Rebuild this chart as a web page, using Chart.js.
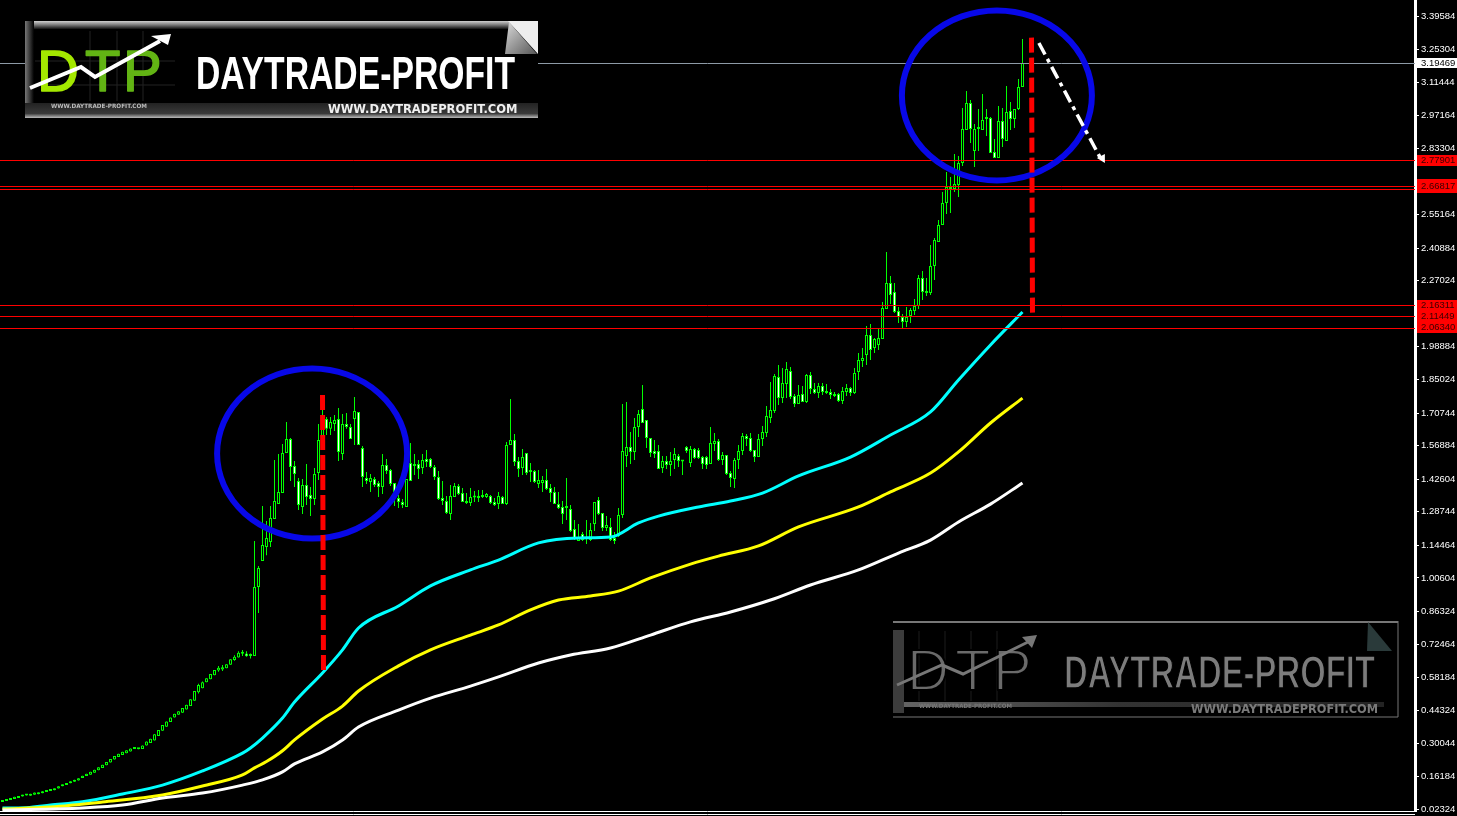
<!DOCTYPE html>
<html><head><meta charset="utf-8"><style>html,body{margin:0;padding:0;background:#000}canvas{display:block}</style>
<script src="https://cdn.jsdelivr.net/npm/chart.js@4"></script></head><body>
<canvas id="c" width="1457" height="816"></canvas>
<script>
const tickValues=[3.39584,3.25304,3.11444,2.97164,2.83304,2.69024,2.55164,2.40884,2.27024,2.12904,1.98884,1.85024,1.70744,1.56884,1.42604,1.28744,1.14464,1.00604,0.86324,0.72464,0.58184,0.44324,0.30044,0.16184,0.02324];
const opens=[
.053,.057,.062,.066,.070,.076,.081,.080,.084,.086,
.090,.096,.100,.103,.111,.120,.125,.133,.139,.145,
.155,.164,.169,.177,.188,.198,.209,.221,.234,.244,
.253,.260,.268,.279,.277,.279,.293,.304,.315,.334,
.356,.373,.393,.412,.424,.433,.447,.461,.484,.520,
.537,.562,.575,.592,.612,.617,.622,.637,.657,.668,
.684,.685,.674,.674,.968,1.078,1.138,1.159,1.257,1.320,
1.367,1.537,1.597,1.482,1.418,1.308,1.401,1.359,1.342,1.452,
1.593,1.682,1.640,1.661,1.682,1.533,1.661,1.648,1.682,1.712,
1.559,1.431,1.414,1.427,1.410,1.393,1.486,1.465,1.410,1.346,
1.329,1.308,1.495,1.482,1.491,1.474,1.512,1.512,1.478,1.435,
1.346,1.333,1.278,1.350,1.397,1.367,1.333,1.325,1.348,1.346,
1.350,1.350,1.354,1.329,1.320,1.350,1.320,1.571,1.593,1.503,
1.474,1.537,1.461,1.461,1.406,1.410,1.423,1.389,1.372,1.320,
1.308,1.303,1.299,1.214,1.163,1.193,1.172,1.167,1.235,1.337,
1.282,1.218,1.223,1.176,1.184,1.274,1.525,1.563,1.542,1.648,
1.725,1.678,1.601,1.546,1.546,1.474,1.503,1.486,1.508,1.525,
1.503,1.563,1.495,1.554,1.550,1.520,1.520,1.491,1.576,1.588,
1.508,1.529,1.452,1.427,1.508,1.546,1.610,1.601,1.550,1.520,
1.597,1.622,1.686,1.716,1.861,1.771,1.831,1.886,1.780,1.746,
1.788,1.754,1.869,1.810,1.793,1.822,1.801,1.797,1.788,1.788,
1.759,1.797,1.814,1.793,1.882,1.929,1.954,2.039,1.984,1.997,
2.022,2.150,2.260,2.222,2.141,2.116,2.095,2.120,2.141,2.163,
2.282,2.226,2.218,2.333,2.435,2.507,2.601,2.669,2.660,2.677,
2.771,2.911,3.026,2.822,2.915,2.911,2.958,2.962,2.818,2.792,
2.949,2.864,2.992,2.958,3.000,3.094];
const closes=[
.062,.066,.070,.075,.079,.084,.083,.088,.093,.094,
.099,.104,.108,.111,.120,.128,.134,.141,.148,.154,
.165,.173,.182,.190,.201,.211,.223,.236,.249,.258,
.267,.273,.281,.281,.282,.293,.310,.322,.341,.359,
.381,.395,.412,.428,.439,.453,.467,.490,.525,.551,
.562,.579,.597,.614,.624,.626,.639,.660,.671,.688,
.688,.673,.677,.968,1.048,1.146,1.176,1.261,1.333,1.372,
1.537,1.597,1.478,1.448,1.316,1.401,1.350,1.342,1.448,1.593,
1.665,1.640,1.669,1.678,1.542,1.661,1.648,1.597,1.716,1.571,
1.435,1.418,1.431,1.401,1.393,1.486,1.461,1.406,1.372,1.329,
1.316,1.427,1.418,1.486,1.469,1.508,1.499,1.478,1.435,1.342,
1.333,1.282,1.354,1.397,1.363,1.329,1.325,1.350,1.350,1.354,
1.359,1.363,1.325,1.316,1.354,1.320,1.571,1.593,1.499,1.469,
1.520,1.452,1.457,1.414,1.423,1.423,1.384,1.367,1.320,1.303,
1.278,1.308,1.206,1.176,1.180,1.167,1.180,1.210,1.329,1.278,
1.218,1.231,1.167,1.163,1.274,1.546,1.563,1.542,1.648,1.703,
1.665,1.601,1.537,1.533,1.469,1.503,1.486,1.503,1.533,1.503,
1.501,1.546,1.554,1.516,1.516,1.491,1.486,1.580,1.588,1.508,
1.529,1.448,1.431,1.508,1.546,1.610,1.597,1.546,1.520,1.597,
1.627,1.695,1.720,1.865,1.771,1.835,1.895,1.776,1.746,1.784,
1.754,1.869,1.810,1.793,1.822,1.797,1.793,1.784,1.780,1.759,
1.801,1.814,1.793,1.878,1.933,1.941,2.039,1.975,2.022,2.026,
2.154,2.260,2.209,2.137,2.116,2.095,2.116,2.146,2.163,2.282,
2.222,2.218,2.333,2.443,2.507,2.601,2.669,2.660,2.681,2.771,
2.915,3.026,2.915,2.915,2.920,2.954,2.966,2.813,2.792,2.949,
2.873,2.988,2.958,3.000,3.094,3.196];
const wickStart=49;
const highs=[
.556,.566,.579,.597,.614,.632,.636,.639,.660,.677,.694,.700,.694,.685,
1.163,1.057,1.312,1.248,1.312,1.508,1.533,
1.576,1.669,1.601,1.503,1.431,1.427,1.491,1.393,1.474,1.661,
1.725,1.691,1.691,1.699,1.729,1.703,1.707,1.661,1.776,1.712,
1.567,1.457,1.448,1.435,1.418,1.533,1.512,1.469,1.410,1.359,
1.342,1.427,1.580,1.533,1.508,1.533,1.550,1.516,1.486,1.461,
1.418,1.354,1.401,1.410,1.406,1.389,1.367,1.389,1.376,1.380,
1.380,1.367,1.359,1.346,1.372,1.354,1.584,1.767,1.618,1.520,
1.554,1.537,1.495,1.465,1.465,1.440,1.469,1.406,1.393,1.372,
1.333,1.431,1.316,1.252,1.235,1.201,1.252,1.240,1.329,1.350,
1.282,1.269,1.261,1.201,1.303,1.746,1.754,1.627,1.686,1.720,
1.827,1.678,1.601,1.593,1.571,1.525,1.525,1.542,1.559,1.533,
1.508,1.567,1.567,1.559,1.559,1.525,1.525,1.648,1.622,1.597,
1.542,1.529,1.461,1.516,1.571,1.622,1.618,1.622,1.550,1.618,
1.652,1.737,1.839,1.873,1.912,1.899,1.924,1.903,1.788,1.827,
1.822,1.873,1.882,1.835,1.835,1.835,1.831,1.810,1.797,1.793,
1.818,1.831,1.818,1.899,1.963,1.984,2.078,2.086,2.026,2.065,
2.180,2.392,2.290,2.260,2.158,2.129,2.158,2.154,2.192,2.294,
2.311,2.282,2.422,2.452,2.528,2.647,2.732,2.711,2.809,2.801,
3.005,3.077,3.039,2.937,3.000,3.064,3.000,2.966,2.873,3.013,
3.005,3.098,3.030,3.000,3.128,3.298];
const lows=[
.515,.537,.562,.575,.592,.607,.610,.622,.637,.654,.668,.674,.671,.663,
.674,.857,1.078,1.103,1.138,1.257,1.320,
1.367,1.537,1.418,1.393,1.295,1.278,1.316,1.269,1.316,1.423,
1.555,1.614,1.614,1.631,1.503,1.508,1.640,1.597,1.571,1.571,
1.393,1.406,1.372,1.393,1.350,1.363,1.448,1.397,1.312,1.303,
1.303,1.308,1.418,1.444,1.427,1.448,1.478,1.474,1.423,1.337,
1.316,1.278,1.252,1.350,1.359,1.329,1.320,1.312,1.329,1.329,
1.346,1.346,1.320,1.312,1.299,1.320,1.316,1.571,1.482,1.435,
1.444,1.444,1.414,1.410,1.389,1.372,1.380,1.329,1.320,1.299,
1.235,1.252,1.201,1.167,1.163,1.163,1.150,1.163,1.206,1.274,
1.206,1.206,1.163,1.150,1.180,1.261,1.478,1.491,1.508,1.605,
1.665,1.559,1.520,1.516,1.469,1.452,1.469,1.440,1.469,1.478,
1.444,1.537,1.478,1.512,1.512,1.469,1.469,1.491,1.546,1.503,
1.486,1.444,1.393,1.389,1.469,1.529,1.567,1.542,1.499,1.520,
1.567,1.605,1.665,1.707,1.742,1.750,1.771,1.767,1.733,1.746,
1.754,1.750,1.788,1.788,1.771,1.784,1.788,1.767,1.776,1.754,
1.746,1.780,1.780,1.788,1.848,1.903,1.912,1.933,1.963,1.975,
2.022,2.150,2.171,2.133,2.090,2.065,2.073,2.090,2.124,2.150,
2.188,2.205,2.209,2.273,2.435,2.507,2.554,2.558,2.647,2.626,
2.758,2.911,2.856,2.754,2.822,2.911,2.886,2.813,2.792,2.792,
2.839,2.864,2.911,2.920,2.996,3.094];
const maCyanAt=[0,6,12,20,30,40,50,60,62,65,70,73,80,85,89,99,107,117,124,134,144,152,159,164,174,182,190,199,212,222,232,239,247,255];
const maCyan=[.028,.029,.040,.054,.087,.125,.185,.261,.283,.325,.410,.478,.602,.700,.793,.887,.972,1.040,1.082,1.155,1.176,1.180,1.240,1.269,1.308,1.333,1.367,1.440,1.520,1.614,1.712,1.848,1.997,2.137];
const maYellowAt=[0,12,25,40,50,60,63,66,70,73,80,85,89,99,107,117,124,132,139,147,154,162,172,179,189,199,214,222,232,239,247,255];
const maYellow=[.023,.032,.053,.083,.121,.168,.198,.225,.271,.317,.406,.461,.525,.632,.700,.763,.806,.870,.912,.929,.950,1.006,1.065,1.099,1.142,1.223,1.308,1.372,1.452,1.542,1.665,1.771];
const maWhiteAt=[0,20,30,40,50,60,65,70,73,80,85,89,99,107,117,124,134,142,152,162,172,182,192,202,214,224,232,239,247,255];
const maWhite=[.019,.028,.040,.070,.091,.125,.147,.181,.215,.266,.317,.372,.444,.495,.546,.585,.644,.678,.708,.763,.819,.861,.912,.976,1.040,1.112,1.167,1.244,1.320,1.410];
const levelPrices=[3.19469,2.77901,2.66817,2.65580,2.16311,2.11449,2.06340];
const levelNudge=[0,-1,-1,-1,-1,-1,-1];
const levelColors=['#8d9aa6','#ff0000','#ff0000','#ff0000','#ff0000','#ff0000','#ff0000'];
const tagPrices=[3.19469,2.77901,2.66817,2.16311,2.11449,2.06340];
const ellipseIdx=[77.4,248.6], ellipsePrice=[1.535,3.058], ellipseRxIdx=[23.75,23.75], ellipseRyPrice=[.3615,.3615];
const dashIdx=[[80,80.25],[257.25,257.5]], dashPrice=[[1.784,.614],[3.304,2.133]];
const arrowIdx=[259.1,274.6], arrowPrice=[3.281,2.788];
const headIdx=[275.6,275.6,273.6], headPrice=[2.809,2.771,2.792];

const idx=opens.map((_,i)=>i);
const wickData=idx.map(i=>{const w=i-wickStart;return {x:i,y:w>=0?[lows[w],highs[w]]:[Math.min(opens[i],closes[i]),Math.max(opens[i],closes[i])]};});
const bodyData=idx.map(i=>({x:i,y:[opens[i],closes[i]]}));
const bodyFill=idx.map(i=>closes[i]<opens[i]?'#ffffff':'#000000');
const pts=(a,v)=>a.map((x,k)=>({x,y:v[k]}));

function logo(c,o){
 const {x,y,w,h,main,green,green2}=o;
 c.save();
 c.fillStyle='#000';c.fillRect(x,y,w,h);
 if(!o.ghost){
  let g=c.createLinearGradient(0,y,0,y+8);g.addColorStop(0,'#d0d0d0');g.addColorStop(.5,'#777');g.addColorStop(1,'#111');
  c.fillStyle=g;c.fillRect(x,y,w,8);
  g=c.createLinearGradient(x,0,x+9,0);g.addColorStop(0,'#777');g.addColorStop(1,'#000');
  c.fillStyle=g;c.fillRect(x,y,9,h);
  g=c.createLinearGradient(0,y+82,0,y+97);g.addColorStop(0,'#222');g.addColorStop(.7,'#3a3a3a');g.addColorStop(1,'#bbb');
  c.fillStyle=g;c.fillRect(x,y+82,w,15);
  c.strokeStyle='#222';c.lineWidth=1;
  [65,92,118].forEach(d=>{c.beginPath();c.moveTo(x+d,y+10);c.lineTo(x+d,y+80);c.stroke();});
  [40,64].forEach(d=>{c.beginPath();c.moveTo(x+10,y+d);c.lineTo(x+150,y+d);c.stroke();});
  c.fillStyle='#eee';c.beginPath();c.moveTo(x+w-30,y);c.lineTo(x+w,y);c.lineTo(x+w,y+33);c.closePath();c.fill();
  g=c.createLinearGradient(x+w-33,y,x+w,y+33);g.addColorStop(0,'#ddd');g.addColorStop(1,'#555');
  c.fillStyle=g;c.beginPath();c.moveTo(x+w-29,y+1);c.lineTo(x+w-1,y+33);c.lineTo(x+w-33,y+33);c.closePath();c.fill();
 }else{
  c.strokeStyle='#777';c.lineWidth=2;c.beginPath();c.moveTo(x,y+1);c.lineTo(x+w,y+1);c.stroke();
  c.lineWidth=1;c.beginPath();c.moveTo(x+w,y);c.lineTo(x+w,y+h);c.lineTo(x,y+h);c.stroke();
  c.fillStyle='#3c3c3c';c.fillRect(x,y+9,11,83);
  let g=c.createLinearGradient(x,0,x+w,0);g.addColorStop(0,'#666');g.addColorStop(.45,'#333');g.addColorStop(1,'#222');
  c.fillStyle=g;c.fillRect(x+11,y+81,w-25,5);
  c.strokeStyle='#1d1d1d';c.lineWidth=1;
  [26,52,78,104].forEach(d=>{c.beginPath();c.moveTo(x+d,y+10);c.lineTo(x+d,y+80);c.stroke();});
  c.fillStyle='#2a3a3a';c.beginPath();c.moveTo(x+475,y+1);c.lineTo(x+499,y+30);c.lineTo(x+474,y+30);c.closePath();c.fill();
 }
 c.textBaseline='alphabetic';c.textAlign='left';
 c.font='58px "Liberation Sans"';c.lineJoin='round';
 c.fillStyle=green;c.fillText('D',x+o.dx,o.dtpBase,48);
 c.fillStyle=green2;c.fillText('T',x+o.dx+48,o.dtpBase,36);c.fillText('P',x+o.dx+86,o.dtpBase,56);
 if(o.ghost){c.strokeStyle='#000';c.lineWidth=2;c.strokeText('D',x+o.dx,o.dtpBase,48);c.strokeText('T',x+o.dx+48,o.dtpBase,36);c.strokeText('P',x+o.dx+86,o.dtpBase,56);}
 else{c.lineWidth=1.5;c.strokeStyle=green;c.strokeText('D',x+o.dx,o.dtpBase,48);c.strokeStyle=green2;c.strokeText('T',x+o.dx+48,o.dtpBase,36);c.strokeText('P',x+o.dx+86,o.dtpBase,56);}
 c.font='bold 47px "Liberation Sans"';
 c.fillStyle=main;c.fillText('DAYTRADE-PROFIT',o.tx,o.tBase,o.tw);
 if(o.ghost){c.strokeStyle='#000';c.lineWidth=1.5;c.strokeText('DAYTRADE-PROFIT',o.tx,o.tBase,o.tw);}
 c.strokeStyle=o.arrow;c.lineWidth=o.ghost?3:4;c.lineJoin='miter';
 c.beginPath();o.ar.forEach((p,i)=>i?c.lineTo(p[0],p[1]):c.moveTo(p[0],p[1]));c.stroke();
 c.fillStyle=o.arrow;c.beginPath();o.hd.forEach((p,i)=>i?c.lineTo(p[0],p[1]):c.moveTo(p[0],p[1]));c.closePath();c.fill();
 c.fillStyle=o.urlc;c.font='bold 11.5px "DejaVu Sans"';c.fillText('WWW.DAYTRADEPROFIT.COM',o.ux,y+92,o.uw);
 c.fillStyle=o.smallc;c.font='bold 6px "DejaVu Sans"';c.fillText('WWW.DAYTRADE-PROFIT.COM',o.sx,y+87,o.sw);
 c.restore();
}

const annot={id:'annot',afterDatasetsDraw(ch){
 const c=ch.ctx,X=ch.scales.x,Y=ch.scales.y,a=ch.chartArea;
 c.save();
 c.lineWidth=1;
 levelPrices.forEach((p,i)=>{const y=Math.round(Y.getPixelForValue(p))+levelNudge[i]+.5;c.strokeStyle=levelColors[i];c.beginPath();c.moveTo(0,y);c.lineTo(a.right,y);c.stroke();});
 c.strokeStyle='#fff';
 [811.5,814.5].forEach(y=>{c.beginPath();c.moveTo(0,y);c.lineTo(a.right,y);c.stroke();});
 logo(c,{x:25,y:21,w:513,h:97,main:'#ffffff',green:'#a4e800',green2:'#62b414',dx:12,dtpBase:91,tx:196,tBase:89,tw:319,arrow:'#fff',
  ar:[[30,88],[81,67],[95,77],[160,41]],hd:[[171,34],[151,36],[168,45]],urlc:'#f0f0f0',ux:328,uw:191,smallc:'#bbb',sx:51,sw:96});
 logo(c,{x:893,y:621,w:505,h:96,ghost:true,main:'#7c7c7c',green:'#6a6a6a',green2:'#6a6a6a',dx:14,dtpBase:690,tx:1064,tBase:688,tw:311,arrow:'#777',
  ar:[[897,685],[942,665],[963,674],[1030,641]],hd:[[1037,635],[1022,637],[1032,648]],urlc:'#7a7a7a',ux:1191,uw:187,smallc:'#777',sx:919,sw:93});
 c.strokeStyle='#0808e8';c.lineWidth=6;
 ellipseIdx.forEach((v,i)=>{
  const cx=X.getPixelForValue(v),cy=Y.getPixelForValue(ellipsePrice[i]);
  const rx=X.getPixelForValue(v+ellipseRxIdx[i])-cx,ry=cy-Y.getPixelForValue(ellipsePrice[i]+ellipseRyPrice[i]);
  c.beginPath();c.ellipse(cx,cy,rx,ry,0,0,Math.PI*2);c.stroke();
 });
 c.strokeStyle='#ff0000';c.lineWidth=5;c.setLineDash([15,5]);
 dashIdx.forEach((d,i)=>{c.beginPath();c.moveTo(X.getPixelForValue(d[0]),Y.getPixelForValue(dashPrice[i][0]));c.lineTo(X.getPixelForValue(d[1]),Y.getPixelForValue(dashPrice[i][1]));c.stroke();});
 c.strokeStyle='#fff';c.lineWidth=3.5;c.setLineDash([13,5,4,5]);
 c.beginPath();c.moveTo(X.getPixelForValue(arrowIdx[0]),Y.getPixelForValue(arrowPrice[0]));c.lineTo(X.getPixelForValue(arrowIdx[1]),Y.getPixelForValue(arrowPrice[1]));c.stroke();
 c.setLineDash([]);c.fillStyle='#fff';c.beginPath();
 headIdx.forEach((v,i)=>{const px=X.getPixelForValue(v),py=Y.getPixelForValue(headPrice[i]);i?c.lineTo(px,py):c.moveTo(px,py);});
 c.closePath();c.fill();
 c.restore();
},afterDraw(ch){
 const c=ch.ctx,Y=ch.scales.y;
 c.save();c.font='9.5px "Liberation Sans"';c.textBaseline='middle';c.textAlign='left';
 tagPrices.forEach((p,i)=>{
  const y=Math.round(Y.getPixelForValue(p));
  const white=i===0;
  const off=i===0?0:i===5?-2:-1;
  const hh=(i===2)?14:(i===0?10:11);
  c.fillStyle=white?'#fff':'#ff0000';c.fillRect(1417,y+off-Math.floor(hh/2),40,hh);
  c.fillStyle=white?'#000':'#3a0000';c.fillText(p.toFixed(5),1421,y+off+.5);
 });
 c.restore();
}};

new Chart(document.getElementById('c'),{
 data:{datasets:[
  {type:'line',label:'white',data:pts(maWhiteAt,maWhite),borderColor:'#ffffff',borderWidth:3,pointRadius:0,cubicInterpolationMode:'monotone',order:0},
  {type:'line',label:'yellow',data:pts(maYellowAt,maYellow),borderColor:'#ffff00',borderWidth:3,pointRadius:0,cubicInterpolationMode:'monotone',order:0},
  {type:'line',label:'cyan',data:pts(maCyanAt,maCyan),borderColor:'#00ffff',borderWidth:3,pointRadius:0,cubicInterpolationMode:'monotone',order:0},
  {type:'bar',label:'body',data:bodyData,backgroundColor:bodyFill,borderColor:'#00ff00',borderWidth:1,borderSkipped:false,grouped:false,barPercentage:2,maxBarThickness:3,minBarLength:2,order:1},
  {type:'bar',label:'wick',data:wickData,backgroundColor:'#00ff00',borderWidth:0,grouped:false,barPercentage:2,maxBarThickness:1,order:2}
 ]},
 options:{
  responsive:false,animation:false,devicePixelRatio:1,
  layout:{autoPadding:false,padding:{top:0,left:0,right:0,bottom:5}},
  plugins:{legend:{display:false},tooltip:{enabled:false}},
  scales:{
   x:{type:'linear',display:false,min:-.625,max:353.125,offset:false,grid:{display:false}},
   y:{type:'linear',position:'right',min:.0148,max:3.464,
    afterFit(s){s.width=42;s.paddingTop=0;s.paddingBottom=0;},
    afterBuildTicks(s){s.ticks=tickValues.map(v=>({value:v}));},
    border:{color:'#fff',width:3},
    grid:{drawOnChartArea:false,color:'#fff',tickLength:4,tickWidth:1},
    ticks:{autoSkip:false,maxRotation:0,color:'#fff',padding:2,font:{family:'"Liberation Sans"',size:9.5},callback:v=>Number(v).toFixed(5)}
   }
  }
 },
 plugins:[annot]
});
</script></body></html>
